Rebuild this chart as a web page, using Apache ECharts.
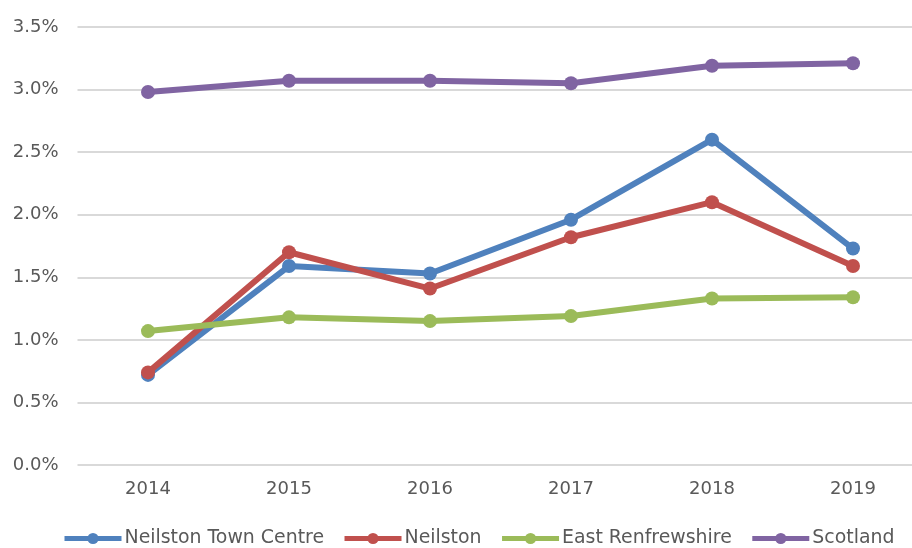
<!DOCTYPE html>
<html lang="en">
<head>
    <meta charset="UTF-8">
    <title>Neilston chart</title>
    <script src="https://cdn.jsdelivr.net/npm/echarts@6.0.0/dist/echarts.min.js"></script>
    <style>
        html, body { margin: 0; padding: 0; background: #ffffff; overflow: hidden; }
        /* the plot area runs past the right edge of the picture, so the chart is a bit wider than the window */
        #chart { width: 924px; height: 548px; }
    </style>
</head>
<body>
    <div id="chart"></div>
    <script>
        // data (percent)
        const years = ['2014', '2015', '2016', '2017', '2018', '2019'];
        const townCentre = [0.72, 1.59, 1.53, 1.96, 2.60, 1.73];
        const neilston = [0.74, 1.70, 1.41, 1.82, 2.10, 1.59];
        const eastRenfrewshire = [1.07, 1.18, 1.15, 1.19, 1.33, 1.34];
        const scotland = [2.98, 3.07, 3.07, 3.05, 3.19, 3.21];

        const seriesNames = ['Neilston Town Centre', 'Neilston', 'East Renfrewshire', 'Scotland'];
        const seriesColors = ['#4f81bd', '#c0504d', '#9bbb59', '#8064a2'];
        const seriesValues = [townCentre, neilston, eastRenfrewshire, scotland];

        const font = 'DejaVu Sans';
        const textColor = '#595959';

        const chart = echarts.init(document.getElementById('chart'));
        const option = {
            animation: false,
            grid: {
                left: 77.5,
                right: 0.5,
                top: 27,
                bottom: 83,
                containLabel: false
            },
            legend: {
                left: 62,
                top: 529,
                padding: 0,
                itemWidth: 57,
                itemHeight: 14,
                itemGap: 18,
                lineStyle: { width: 5 },
                textStyle: { fontFamily: font, fontSize: 18.9, color: textColor, padding: [0, 0, 0, -2] },
                data: seriesNames
            },
            xAxis: {
                type: 'category',
                data: years,
                boundaryGap: true,
                axisLine: { show: false },
                axisTick: { show: false },
                axisLabel: { fontFamily: font, fontSize: 18, color: textColor, margin: 15 }
            },
            yAxis: {
                type: 'value',
                min: 0,
                max: 3.5,
                interval: 0.5,
                axisLine: { show: false },
                axisTick: { show: false },
                splitLine: { lineStyle: { color: '#d9d9d9', width: 2 } },
                axisLabel: {
                    fontFamily: font, fontSize: 18, color: textColor, margin: 19,
                    formatter: function (v) { return v.toFixed(1) + '%'; }
                }
            },
            series: seriesNames.map(function (name, i) {
                return {
                    name: name,
                    type: 'line',
                    data: seriesValues[i],
                    symbol: 'circle',
                    symbolSize: 14,
                    color: seriesColors[i],
                    lineStyle: { width: 6, color: seriesColors[i] },
                    itemStyle: { color: seriesColors[i] }
                };
            })
        };
        chart.setOption(option);
    </script>
</body>
</html>
